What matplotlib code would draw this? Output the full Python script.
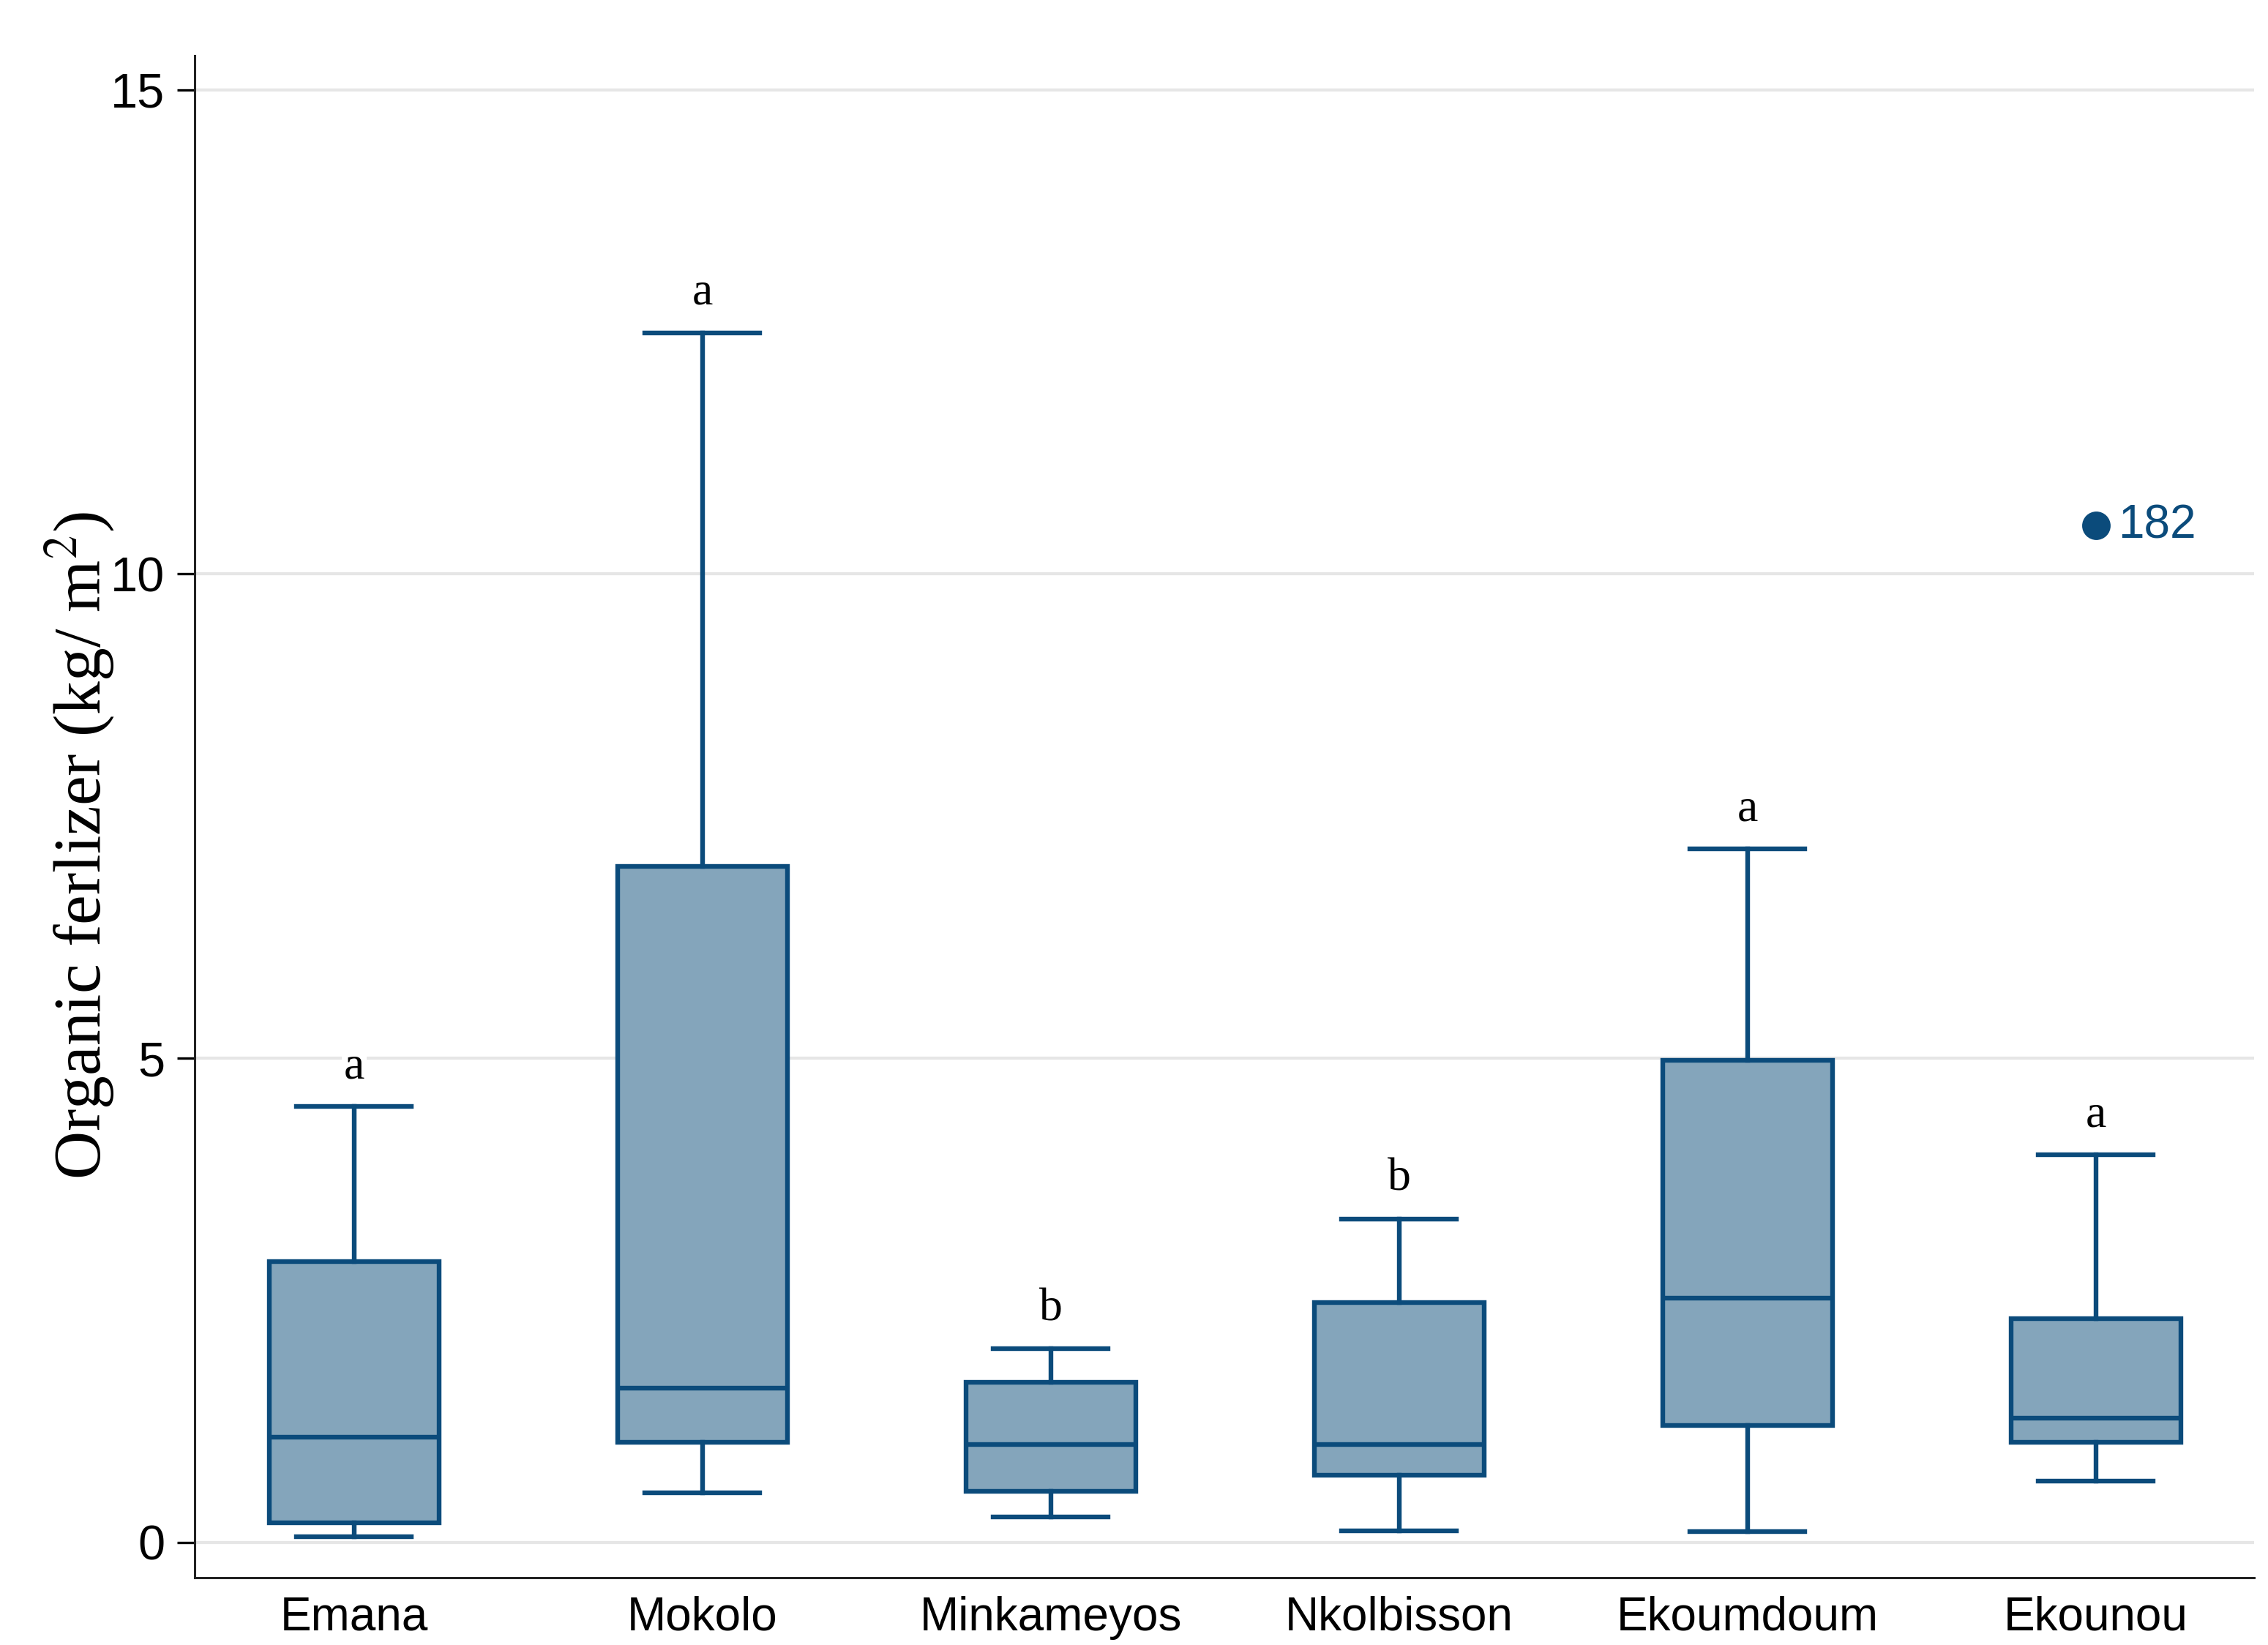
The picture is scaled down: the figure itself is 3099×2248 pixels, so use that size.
import matplotlib
matplotlib.use("Agg")
import matplotlib.pyplot as plt

# 데이터
sites = ["Emana", "Mokolo", "Minkameyos", "Nkolbisson", "Ekoumdoum", "Ekounou"]
whislo = [0.06, 0.51, 0.26, 0.12, 0.11, 0.63]
q1 = [0.20, 1.03, 0.53, 0.69, 1.21, 1.03]
med = [1.09, 1.59, 1.01, 1.01, 2.52, 1.28]
q3 = [2.90, 6.98, 1.65, 2.48, 4.98, 2.31]
whishi = [4.50, 12.49, 2.00, 3.34, 7.16, 4.00]
letters = ["a", "a", "b", "b", "a", "a"]
outlier_site = "Ekounou"
outlier_value = 10.5
outlier_label = "182"

line_c = "#0b4b7b"
fill_c = "#84a5bb"

stats = []
for i, s in enumerate(sites):
    fl = [outlier_value] if s == outlier_site else []
    stats.append(dict(label=s, whislo=whislo[i], q1=q1[i], med=med[i],
                      q3=q3[i], whishi=whishi[i], fliers=fl))

fig = plt.figure(figsize=(15.495, 11.24), dpi=200)
ax = fig.add_axes([0.0858, 0.041, 0.908, 0.925])

pos = list(range(1, len(sites) + 1))
ax.bxp(stats, positions=pos, widths=0.487, patch_artist=True,
       boxprops=dict(facecolor=fill_c, edgecolor=line_c, linewidth=2.3),
       medianprops=dict(color=line_c, linewidth=2.3),
       whiskerprops=dict(color=line_c, linewidth=2.3),
       capprops=dict(color=line_c, linewidth=2.3),
       capwidths=0.33,
       flierprops=dict(marker="o", markerfacecolor=line_c, markeredgecolor=line_c,
                       markersize=13),
       zorder=3)

# 유의성 문자
for p, top, let in zip(pos, whishi, letters):
    ax.annotate(let, (p, top), xytext=(0, 9), textcoords="offset points",
                ha="center", va="bottom", fontsize=23, family="Liberation Serif",
                bbox=dict(facecolor="white", edgecolor="none", pad=1), zorder=4)

# 이상치 번호
op = pos[sites.index(outlier_site)]
ax.annotate(outlier_label, (op, outlier_value), xytext=(11, 0),
            textcoords="offset points", ha="left", va="center",
            fontsize=23, color=line_c, family="Liberation Sans")

ax.set_xlim(0.542, 6.454)
ax.set_ylim(-0.363, 15.35)
ax.set_yticks([0, 5, 10, 15])
ax.set_xticks(pos)
ax.set_xticklabels(sites)
ax.yaxis.grid(True, color="#e6e6e6", linewidth=1.5, zorder=0)
ax.set_axisbelow(True)

for s in ["top", "right"]:
    ax.spines[s].set_visible(False)
for s in ["left", "bottom"]:
    ax.spines[s].set_linewidth(1.1)
    ax.spines[s].set_color("#222222")

ax.tick_params(axis="y", length=8.5, width=1.2, labelsize=24, pad=6)
ax.tick_params(axis="x", length=0, labelsize=23, pad=9)
for t in ax.get_xticklabels() + ax.get_yticklabels():
    t.set_family("Liberation Sans")

plt.rcParams["mathtext.fontset"] = "stix"
fig.text(0.0355, 0.486, "Organic ferlizer (kg/ m$^{2}$)", rotation=90,
         ha="center", va="center", fontsize=33, family="Liberation Serif")

fig.savefig("out.png", dpi=200, facecolor="white")
